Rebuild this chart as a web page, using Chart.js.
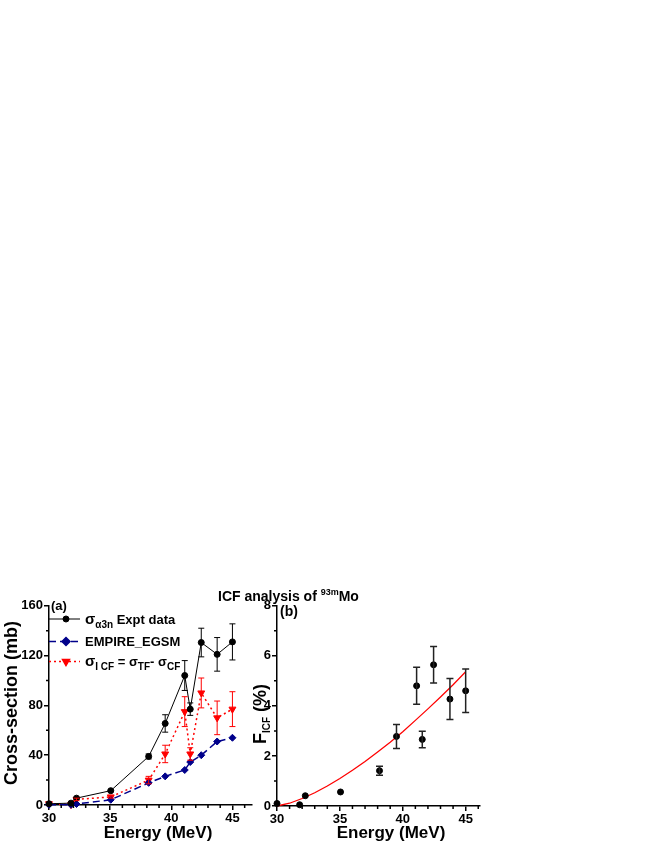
<!DOCTYPE html>
<html>
<head>
<meta charset="utf-8">
<script src="https://cdn.jsdelivr.net/npm/chart.js@4.4.1/dist/chart.umd.min.js"></script>
<style>
  body { margin: 0; background: #fff; }
  #wrap { position: relative; width: 654px; height: 846px; }
  canvas { position: absolute; left: 0; top: 0; }
</style>
</head>
<body>
<div id="wrap">
  <canvas id="chartA" width="654" height="846"></canvas>
  <canvas id="chartB" width="654" height="846"></canvas>
</div>
<script>
// beam energies (MeV), shared by both panels
const energies = [30.0, 31.8, 32.25, 35.05, 38.15, 39.5, 41.1, 41.55, 42.45, 43.75, 45.0];

// panel (a): cross-sections in mb
const exptSigma   = [1, 1.5, 5.5, 11.5, 39, 65.5, 104, 77, 130.5, 121, 131];
const exptErr     = [0, 0, 0.5, 0.5, 2, 7, 12, 5, 11.5, 13.5, 14.5];
const empireSigma = [0.2, 0.2, 0.8, 4.2, 17.8, 23, 28.1, 34.5, 40, 51, 54];
const icfSigma    = [1, 0.3, 4.5, 6.5, 20, 41, 75, 41, 90, 70, 77];
const icfErr      = [0, 0, 1, 1, 3, 7, 12, 5, 12, 13.5, 14];

// panel (b): ICF fraction in %
const ficf    = [0.1, 0.05, 0.41, 0.56, 1.41, 2.78, 4.8, 2.66, 5.64, 4.27, 4.6];
const ficfErr = [0, 0, 0, 0, 0.18, 0.48, 0.74, 0.33, 0.73, 0.82, 0.87];
const fitEnergies = [30, 31, 32, 33, 34, 35, 36, 37, 38, 39, 40, 41, 42, 43, 44, 45];
const fitF        = [0, 0.11, 0.3, 0.53, 0.8, 1.1, 1.43, 1.78, 2.16, 2.55, 2.97, 3.42, 3.88, 4.35, 4.84, 5.36];

// minor tick positions
const xMinorA = [31, 32, 33, 34, 36, 37, 38, 39, 41, 42, 43, 44, 46];
const yMinorA = [20, 60, 100, 140];
const xMinorB = [31, 32, 33, 34, 36, 37, 38, 39, 41, 42, 43, 44, 46];
const yMinorB = [1, 3, 5, 7];

const FONT = '"Liberation Sans", Arial, sans-serif';
Chart.defaults.font.family = FONT;

const pts = (xs, ys) => xs.map((x, i) => ({ x: x, y: ys[i] }));

function drawParts(ctx, x, y, parts, align) {
  let total = 0;
  parts.forEach(p => { ctx.font = 'bold ' + p[1] + 'px ' + FONT; total += ctx.measureText(p[0]).width; });
  let cx = align === 'center' ? x - total / 2 : x;
  ctx.textAlign = 'left';
  ctx.textBaseline = 'alphabetic';
  parts.forEach(p => {
    ctx.font = 'bold ' + p[1] + 'px ' + FONT;
    ctx.fillText(p[0], cx, y + p[2]);
    cx += ctx.measureText(p[0]).width;
  });
}

const errorBars = {
  id: 'errorBars',
  afterDatasetsDraw(chart) {
    const ctx = chart.ctx, ys = chart.scales.y;
    chart.data.datasets.forEach((ds, di) => {
      if (!ds.errors) return;
      const meta = chart.getDatasetMeta(di);
      const cap = ds.capHalf || 3;
      ctx.save();
      ctx.strokeStyle = ds.errColor;
      ctx.lineWidth = ds.errWidth || 1;
      ctx.setLineDash([]);
      ctx.beginPath();
      meta.data.forEach((pt, i) => {
        const e = ds.errors[i];
        if (!e) return;
        const v = ds.data[i].y;
        const top = ys.getPixelForValue(v + e), bot = ys.getPixelForValue(v - e);
        ctx.moveTo(pt.x, top); ctx.lineTo(pt.x, bot);
        ctx.moveTo(pt.x - cap, top); ctx.lineTo(pt.x + cap, top);
        ctx.moveTo(pt.x - cap, bot); ctx.lineTo(pt.x + cap, bot);
      });
      ctx.stroke();
      ctx.restore();
    });
  }
};

const minorTicks = {
  id: 'minorTicks',
  afterDraw(chart, args, opts) {
    const x = chart.scales.x, y = chart.scales.y, ctx = chart.ctx;
    ctx.save();
    ctx.strokeStyle = '#000';
    ctx.lineWidth = 1.5;
    ctx.beginPath();
    opts.xMinor.forEach(v => { const px = x.getPixelForValue(v); ctx.moveTo(px, y.bottom); ctx.lineTo(px, y.bottom + 3); });
    opts.yMinor.forEach(v => { const py = y.getPixelForValue(v); ctx.moveTo(x.left, py); ctx.lineTo(x.left - 3, py); });
    ctx.stroke();
    ctx.restore();
  }
};

const textA = {
  id: 'textA',
  afterDraw(chart) {
    const ctx = chart.ctx;
    ctx.save();
    ctx.fillStyle = '#000';
    drawParts(ctx, 51, 610, [['(a)', 13, 0]]);
    drawParts(ctx, 218, 601, [['ICF analysis of ', 14, 0], ['93m', 9, -6], ['Mo', 14, 0]]);
    drawParts(ctx, 158, 838, [['Energy (MeV)', 17, 0]], 'center');
    ctx.save();
    ctx.translate(17, 703);
    ctx.rotate(-Math.PI / 2);
    drawParts(ctx, 0, 0, [['Cross-section (mb)', 18, 0]], 'center');
    ctx.restore();

    // legend
    const rows = [
      { y: 619, color: '#000', dash: [], style: 'circle', r: 3, rot: 0, w: 1,
        parts: [['\u03c3', 15, 0], ['\u03b13n', 10, 4], [' Expt data', 13, 0]] },
      { y: 641.5, color: '#00008b', dash: [7, 4], style: 'rectRot', r: 4, rot: 0, w: 1.5,
        parts: [['EMPIRE_EGSM', 13, 0]] },
      { y: 661.5, color: '#ff0000', dash: [2, 3], style: 'triangle', r: 4, rot: 180, w: 1.5,
        parts: [['\u03c3', 15, 0], ['I CF', 10, 4], [' = \u03c3', 13, 0], ['TF', 10, 4], ['- \u03c3', 13, 0], ['CF', 10, 4]] }
    ];
    rows.forEach(r => {
      ctx.save();
      ctx.strokeStyle = r.color;
      ctx.lineWidth = r.w;
      ctx.setLineDash(r.dash);
      ctx.beginPath();
      ctx.moveTo(49, r.y); ctx.lineTo(80, r.y);
      ctx.stroke();
      ctx.setLineDash([]);
      ctx.fillStyle = r.color;
      Chart.helpers.drawPoint(ctx, { pointStyle: r.style, radius: r.r, rotation: r.rot, borderWidth: 1 }, 66, r.y);
      ctx.restore();
      ctx.fillStyle = '#000';
      drawParts(ctx, 85, r.y + 4.5, r.parts);
    });
    ctx.restore();
  }
};

const textB = {
  id: 'textB',
  afterDraw(chart) {
    const ctx = chart.ctx;
    ctx.save();
    ctx.fillStyle = '#000';
    drawParts(ctx, 280, 616, [['(b)', 14, 0]]);
    drawParts(ctx, 391, 838, [['Energy (MeV)', 17, 0]], 'center');
    ctx.translate(266, 714);
    ctx.rotate(-Math.PI / 2);
    drawParts(ctx, 0, 0, [['F', 18, 0], ['ICF', 10, 4], [' (%)', 18, 0]], 'center');
    ctx.restore();
  }
};

function axisOpts(min, max, step, fitFn) {
  return {
    type: 'linear', min: min, max: max, afterFit: fitFn,
    grid: { drawOnChartArea: false, tickLength: 5, color: '#000', lineWidth: 1.5 },
    border: { color: '#000', width: 1.5 },
    ticks: { stepSize: step, includeBounds: false, color: '#000', maxRotation: 0, padding: 1,
             font: { family: FONT, weight: 'bold', size: 13 } }
  };
}

new Chart(document.getElementById('chartA'), {
  type: 'line',
  data: {
    datasets: [
      { data: pts(energies, exptSigma), borderColor: '#000', backgroundColor: '#000', borderWidth: 1,
        pointStyle: 'circle', pointRadius: 3, pointBorderWidth: 1, clip: false,
        errors: exptErr, errColor: '#000' },
      { data: pts(energies, empireSigma), borderColor: '#00008b', backgroundColor: '#00008b', borderWidth: 1.5,
        borderDash: [7, 4], pointStyle: 'rectRot', pointRadius: 3.5, pointBorderWidth: 1, clip: false },
      { data: pts(energies, icfSigma), borderColor: '#ff0000', backgroundColor: '#ff0000', borderWidth: 1.5,
        borderDash: [2, 3], pointStyle: 'triangle', pointRotation: 180, pointRadius: 4, pointBorderWidth: 1, clip: false,
        errors: icfErr, errColor: '#ff0000' }
    ]
  },
  options: {
    responsive: false, animation: false, events: [],
    layout: { padding: { left: 0, top: 605.8, right: 402, bottom: 0 } },
    plugins: { legend: { display: false }, tooltip: { enabled: false },
               minorTicks: { xMinor: xMinorA, yMinor: yMinorA } },
    scales: {
      x: axisOpts(30, 46.6, 5, s => { s.height = 41; }),
      y: axisOpts(0, 160, 40, s => { s.width = 49; })
    }
  },
  plugins: [errorBars, minorTicks, textA]
});

new Chart(document.getElementById('chartB'), {
  type: 'scatter',
  data: {
    datasets: [
      { data: pts(energies, ficf), borderColor: '#000', backgroundColor: '#000', pointStyle: 'circle',
        pointRadius: 3, pointBorderWidth: 1, clip: false, errors: ficfErr, errColor: '#222', errWidth: 1.5, capHalf: 3.5 },
      { type: 'line', data: pts(fitEnergies, fitF), borderColor: '#ff0000', borderWidth: 1.3,
        pointRadius: 0, fill: false, clip: false }
    ]
  },
  options: {
    responsive: false, animation: false, events: [],
    layout: { padding: { left: 200, top: 605.7, right: 174, bottom: 0 } },
    plugins: { legend: { display: false }, tooltip: { enabled: false },
               minorTicks: { xMinor: xMinorB, yMinor: yMinorB } },
    scales: {
      x: axisOpts(30, 46.14, 5, s => { s.height = 40; }),
      y: axisOpts(0, 8, 2, s => { s.width = 77; })
    }
  },
  plugins: [errorBars, minorTicks, textB]
});
</script>
</body>
</html>
